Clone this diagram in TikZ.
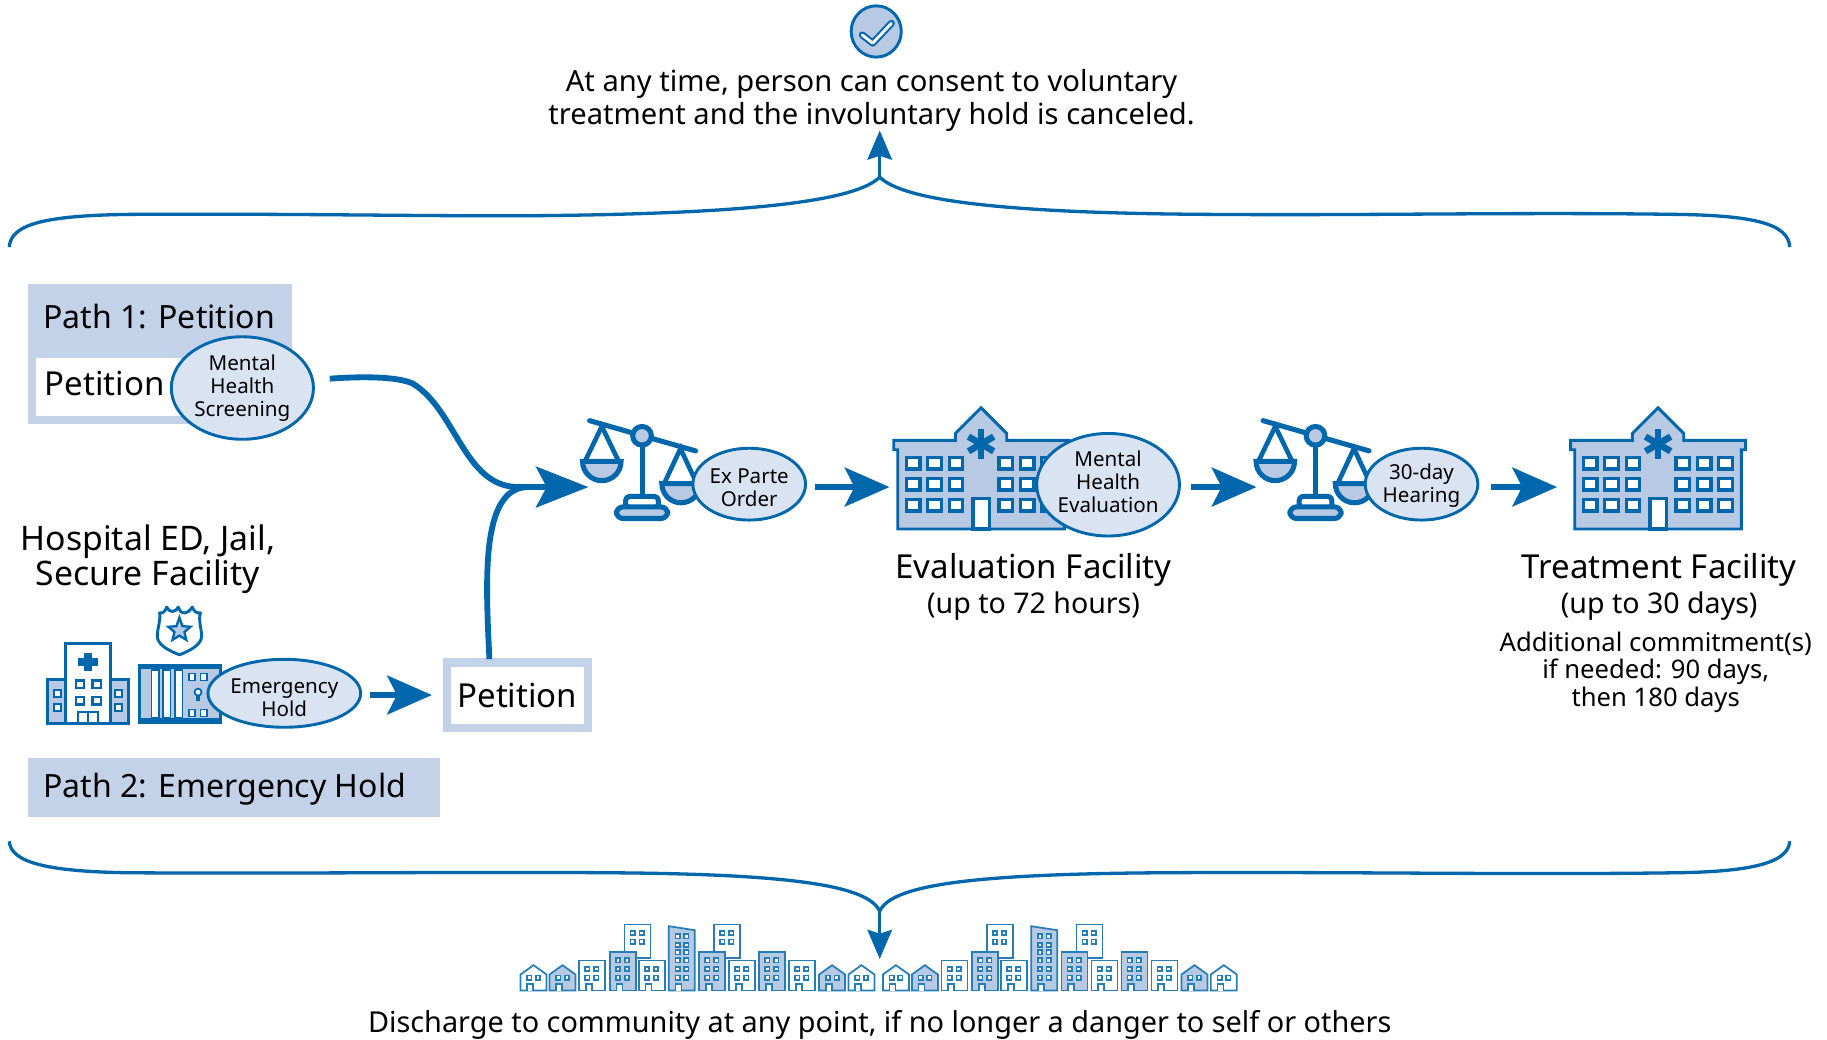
\documentclass[tikz,border=0pt]{standalone}
\usepackage{fontspec}
\setmainfont{Noto Sans}
\usetikzlibrary{shapes.geometric,arrows.meta}
\definecolor{mblue}{HTML}{0067AC}
\definecolor{iconfill}{HTML}{B8C9E3}
\definecolor{bandfill}{HTML}{C3D2E9}
\definecolor{ellfill}{HTML}{DAE3F2}
\newcommand{\lineone}[1]{\rule{0pt}{#1pt}}
\newcommand{\linelast}[1]{\rule[-#1pt]{0pt}{#1pt}}
\tikzset{
 flow/.style={draw=mblue,line width=3pt,-{Stealth[length=23pt,width=20pt,inset=5pt]}},
 flowmain/.style={draw=mblue,line width=3pt,-{Stealth[length=27pt,width=21pt,inset=5.5pt]}},
 flowbare/.style={draw=mblue,line width=3pt},
 bracearrow/.style={draw=mblue,line width=1.7pt,-{Stealth[length=15pt,width=12.6pt,inset=2pt]}},
 braceline/.style={draw=mblue,line width=1.7pt},
 tag/.style={ellipse,draw=mblue,line width=1.5pt,fill=ellfill,inner sep=0pt,align=center,font=\fontsize{10.6}{11.7}\selectfont},
 bigl/.style={inner sep=0pt,align=center,font=\fontsize{17}{19}\selectfont},
 sitel/.style={inner sep=0pt,align=center,font=\fontsize{17.4}{16.8}\selectfont},
 pathl/.style={inner sep=0pt,align=center,font=\fontsize{16.5}{19}\selectfont},
 midl/.style={inner sep=0pt,align=center,font=\fontsize{15}{16.8}\selectfont},
 dischl/.style={inner sep=0pt,align=center,font=\fontsize{14.85}{16.8}\selectfont},
 subl/.style={inner sep=0pt,align=center,font=\fontsize{14.7}{16.8}\selectfont},
 notel/.style={inner sep=0pt,align=center,font=\fontsize{13.2}{14.4}\selectfont},
 iconline/.style={draw=mblue,line width=1.5pt},
 icon/.style={draw=mblue,line width=1.5pt,fill=iconfill},
 win/.style={draw=mblue,line width=1.7pt,fill=white},
 anchorbox/.style={inner sep=0pt,minimum width=4pt,minimum height=4pt},
 cityline/.style={draw=mblue!85,line width=0.9pt},
}
\newcommand{\hospbld}[2]{%
 \begin{scope}[shift={(#1,#2)}]
  \draw[icon,line join=miter] (75,0) -- (97,22) -- (97,28) -- (150,28) -- (150,36) -- (146.5,36) -- (146.5,104) -- (3.5,104) -- (3.5,36) -- (0,36) -- (0,28) -- (53,28) -- (53,22) -- cycle;
  \foreach \wx in {11,29.3,47.6,90.4,108.7,127}
   \foreach \wy in {42.6,60.5,78.6}
    \draw[win] (\wx,\wy) rectangle ++(11.6,10);
  \draw[win] (68,77.6) rectangle (82,104);
  \foreach \ang in {90,30,150}
   \draw[draw=mblue,line width=3.4pt] (75,31)+(\ang:12.5) -- +(\ang+180:12.5);
 \end{scope}}
\newcommand{\scalesicon}[2]{%
 \begin{scope}[shift={(#1,#2)}]
  \draw[iconline,line width=2.6pt,line cap=round] (-45,-13) -- (46,13);
  \draw[iconline,line width=2.6pt] (0,8) -- (0,52);
  \draw[iconline,line width=2.6pt,fill=white,line join=round,rounded corners=2pt] (-14,62) -- (-14,52) -- (14,52) -- (14,62) -- cycle;
  \draw[iconline,line width=2.6pt,fill=iconfill,line join=round,rounded corners=3.5pt] (-22,71) -- (-22,61) -- (22,61) -- (22,71) -- cycle;
  \draw[iconline,line width=2.6pt,fill=iconfill] (0,0) circle[radius=8];
  \draw[iconline,line width=2.4pt] (-49,22) -- (-34.5,-8) -- (-20,22);
  \draw[iconline,line width=2.6pt,fill=iconfill] (-51,22) arc[start angle=180,end angle=0,radius=16.5] -- cycle;
  \draw[iconline,line width=2.4pt] (19,41) -- (33,11) -- (47,41);
  \draw[iconline,line width=2.6pt,fill=iconfill] (17,41) arc[start angle=180,end angle=0,radius=16.5] -- cycle;
 \end{scope}}
% city parts: local units are zoom units
\newcommand{\cdoor}[1]{\draw[cityline,fill=white] (#1+20,273) -- (#1+20,253) -- (#1+38,253) -- (#1+38,273);}
\newcommand{\cwin}[2]{\draw[cityline,fill=white] (#1,#2) rectangle ++(13,13);}
\newcommand{\cbld}[3]{% x, top, fill
 \draw[cityline,fill=#3] (#1,#2) rectangle ++(78,273-#2);
 \foreach \wy in {228,202,176}{\ifdim\wy pt>#2pt \ifdim\wy pt>\dimexpr#2pt+10pt\relax\cwin{#1+18}{\wy}\cwin{#1+45}{\wy}\fi\fi}
 \cdoor{#1}}
\newcommand{\cback}[1]{%
 \draw[cityline,fill=white] (#1,75) rectangle ++(78,100);
 \foreach \wy in {94,120}{\cwin{#1+18}{\wy}\cwin{#1+45}{\wy}}}
\newcommand{\chouse}[2]{%
 \draw[cityline,fill=#2,line join=miter] (#1,273) -- (#1,225) -- (#1+39,197) -- (#1+78,225) -- (#1+78,273) -- cycle;
 \cwin{#1+20}{228}\cwin{#1+46}{228}\cdoor{#1}}
\newcommand{\ctall}[1]{%
 \draw[cityline,fill=iconfill] (#1,273) -- (#1,80) -- (#1+78,92) -- (#1+78,273) -- cycle;
 \foreach \wy in {104,130,152,176,202,228}{\cwin{#1+20}{\wy}\cwin{#1+46}{\wy}}
 \cdoor{#1}}
\newcommand{\cityrow}[2]{%
 \begin{scope}[shift={(#1,#2)},x=0.1716pt,y=-0.1716pt]
  \chouse{62}{white}\chouse{149}{iconfill}
  \cbld{238}{183}{white}
  \cback{374}\cbld{330}{158}{iconfill}\cbld{417}{183}{white}
  \ctall{507}
  \cback{643}\cbld{598}{158}{iconfill}\cbld{688}{183}{white}
  \cbld{778}{158}{iconfill}\cbld{868}{183}{white}
  \chouse{958}{iconfill}\chouse{1046}{white}
 \end{scope}}
\begin{document}
\begin{tikzpicture}[x=0.6pt,y=-0.6pt]
\useasboundingbox (0,0) rectangle (1568,892);
% top
\draw[icon] (752,27) ellipse[x radius=21.5,y radius=22];
\coordinate (chk) at (752,27);
\draw[draw=mblue,line width=3.6pt,line cap=round,line join=round] ([shift={(-12,3)}]chk) -- ([shift={(-3,10)}]chk) -- ([shift={(13,-7)}]chk);
\draw[draw=white,line width=1.5pt,line cap=round,line join=round] ([shift={(-12,3)}]chk) -- ([shift={(-3,10)}]chk) -- ([shift={(13,-7)}]chk);
\node[midl] (consent) at (748,86) {At any time, person can consent to voluntary\\treatment and the involuntary hold is canceled.};
% top brace
\coordinate (topj) at (755,152);
\draw[braceline] (8,212) .. controls (9,192) and (40,185) .. (110,184) .. controls (250,183) and (380,186) .. (470,185) .. controls (650,183) and (735,172) .. (topj) .. controls (775,172) and (860,183) .. (1040,184) .. controls (1180,185) and (1300,182) .. (1440,184) .. controls (1505,185) and (1535,192) .. (1536,212);
\coordinate (toptip) at (755,112);
\draw[bracearrow] (topj) -- (toptip);
% bottom brace
\coordinate (botj) at (755,782);
\node[inner sep=0pt,minimum size=2pt] (cityn) at (755,823) {};
\draw[braceline] (8,722) .. controls (9,740) and (40,748) .. (110,749) .. controls (250,750) and (400,748) .. (520,749) .. controls (680,750) and (745,760) .. (botj) .. controls (765,760) and (830,750) .. (1000,749) .. controls (1150,748) and (1300,751) .. (1440,749) .. controls (1505,748) and (1535,740) .. (1536,722);
\draw[bracearrow] (botj) -- (cityn.center);
% path 1
\fill[bandfill] (24,244) rectangle (251,305);
\fill[bandfill] (24,298) rectangle (175,364);
\fill[white] (31,307) rectangle (175,357);
\node[pathl,anchor=west] (p1) at (37,272) {Path 1: Petition};
\node[bigl,anchor=west] (pet1) at (38,329) {Petition};
\node[tag,minimum width=73.2pt,minimum height=52.8pt] (screen) at (208,333) {Mental\\Health\\Screening\linelast{1.2}};
% path 2
\node[sitel] (sites) at (127,480) {Hospital ED, Jail,\\Secure Facility};
% hospital
\begin{scope}[shift={(41,552)}]
 \draw[icon] (0,31) rectangle (69,69);
 \draw[iconline,fill=white] (15,0) rectangle (54,69);
 \draw[draw=mblue,line width=4pt] (34.5,8) -- (34.5,24) (26,16) -- (43,16);
 \foreach \wx in {24,38.5}\foreach \wy in {32,46}
  \draw[win,line width=1.2pt] (\wx,\wy) rectangle ++(7,6.5);
 \draw[iconline,line width=1.2pt] (26,69) -- (26,59) -- (43,59) -- (43,69) (34.5,59) -- (34.5,69);
 \foreach \wx in {5.5,57.5}\foreach \wy in {40,52}
  \draw[win,line width=1.2pt] (\wx,\wy) rectangle ++(6,6);
\end{scope}
% jail
\begin{scope}[shift={(119,571)}]
 \draw[icon] (1,0) rectangle (70,49);
 \fill[mblue] (0,0) rectangle (71,3.5);
 \fill[mblue] (0,45) rectangle (71,49);
 \foreach \wx in {11,21,31}
  \draw[win,line width=0.8pt] (\wx,4) rectangle ++(6.5,41);
 \foreach \wx in {43,53}\foreach \wy in {7,38}
  \draw[win,line width=0.9pt] (\wx,\wy) rectangle ++(5.5,6);
 \draw[draw=mblue,fill=white,line width=0.9pt] (51,23) circle[radius=3];
 \draw[draw=mblue,line width=2pt] (51,25.5) -- (51,31);
\end{scope}
% badge
\begin{scope}[shift={(154,541)}]
 \draw[iconline,fill=white,line join=round] (-17,-15) .. controls (-14,-14) and (-12,-17) .. (-11,-20) .. controls (-9,-15) and (-3,-15) .. (-1,-20) .. controls (1,-16) and (1,-15) .. (5,-15) .. controls (7,-15) and (9,-17) .. (11,-20) .. controls (12,-17) and (15,-14) .. (18,-15) .. controls (16,-8) and (19,-2) .. (19,5) .. controls (19,12) and (10,17) .. (0,21) .. controls (-10,17) and (-19,12) .. (-19,5) .. controls (-19,-2) and (-16,-8) .. (-17,-15) -- cycle;
 \draw[iconline,fill=iconfill,line width=1.2pt] (0,-11) -- (2.6,-3.6) -- (9.5,-3.1) -- (4.3,1.4) -- (5.9,8.1) -- (0,4.5) -- (-5.9,8.1) -- (-4.3,1.4) -- (-9.5,-3.1) -- (-2.6,-3.6) -- cycle;
\end{scope}
\node[tag,minimum width=72pt,minimum height=35pt] (hold) at (244,595) {\lineone{12}Emergency\\Hold};
\fill[bandfill] (380,565) rectangle (508,628);
\node[fill=white,inner sep=0pt,minimum width=68.4pt,minimum height=29.4pt,bigl] (pet2) at (444,596.5) {Petition};
\draw[flow,shorten <=4.2pt] (hold.east |- pet2.west) -- ([xshift=-9.6pt]pet2.west);
\node[fill=bandfill,inner sep=0pt,minimum width=212.4pt,minimum height=30.6pt] (p2box) at (201,676) {};
\node[pathl,anchor=west] (p2) at (37,677) {Path 2: Emergency Hold};
% center chain
\scalesicon{551}{374}
\node[anchorbox] (scale1) at (505,418) {};
\node[tag,minimum width=58pt,minimum height=37pt] (exparte) at (643,415.5) {\lineone{11}Ex Parte\\Order};
\hospbld{767}{350}
\node[anchorbox] (evalbld) at (767,418) {};
\node[tag,minimum width=73.2pt,minimum height=52.8pt] (evalu) at (951,416) {Mental\\Health\\Evaluation\linelast{3}};
\scalesicon{1129}{374}
\node[anchorbox] (scale2) at (1082,418) {};
\node[tag,minimum width=58pt,minimum height=37pt] (hearing) at (1220,415.5) {\lineone{9.5}30-day\\Hearing};
\hospbld{1348}{350}
\node[anchorbox] (treatbld) at (1340,418) {};
\draw[flow,shorten <=4.2pt] (exparte.east |- evalbld.west) -- (evalbld.west);
\draw[flow,shorten <=5.4pt] (evalu.east |- scale2.west) -- (scale2.west);
\draw[flow,shorten <=6pt] (hearing.east |- treatbld.west) -- (treatbld.west);
% merging
\coordinate (screenout) at (283,325);
\draw[flowmain] (screenout) .. controls (310,323) and (340,323) .. (354,329) .. controls (392,352) and (398,418) .. (445,418) -- (scale1.center);
\draw[flowbare] ([shift={(-24,-6)}]pet2.north) .. controls (417,500) and (412,420) .. (452,418);
% labels right
\node[bigl] (evalt) at (887,489.5) {Evaluation Facility};
\node[subl] (evalh) at (887,520) {(up to 72 hours)};
\node[bigl] (treatt) at (1424,489.5) {Treatment Facility};
\node[subl] (treath) at (1424,520) {(up to 30 days)};
\node[notel] (addl) at (1421,577) {Additional commitment(s)\\if needed: 90 days,\\then 180 days};
% city
\cityrow{429}{772}
\cityrow{740}{772}
\node[dischl] (disch) at (755,879.5) {Discharge to community at any point, if no longer a danger to self or others};
\end{tikzpicture}
\end{document}
